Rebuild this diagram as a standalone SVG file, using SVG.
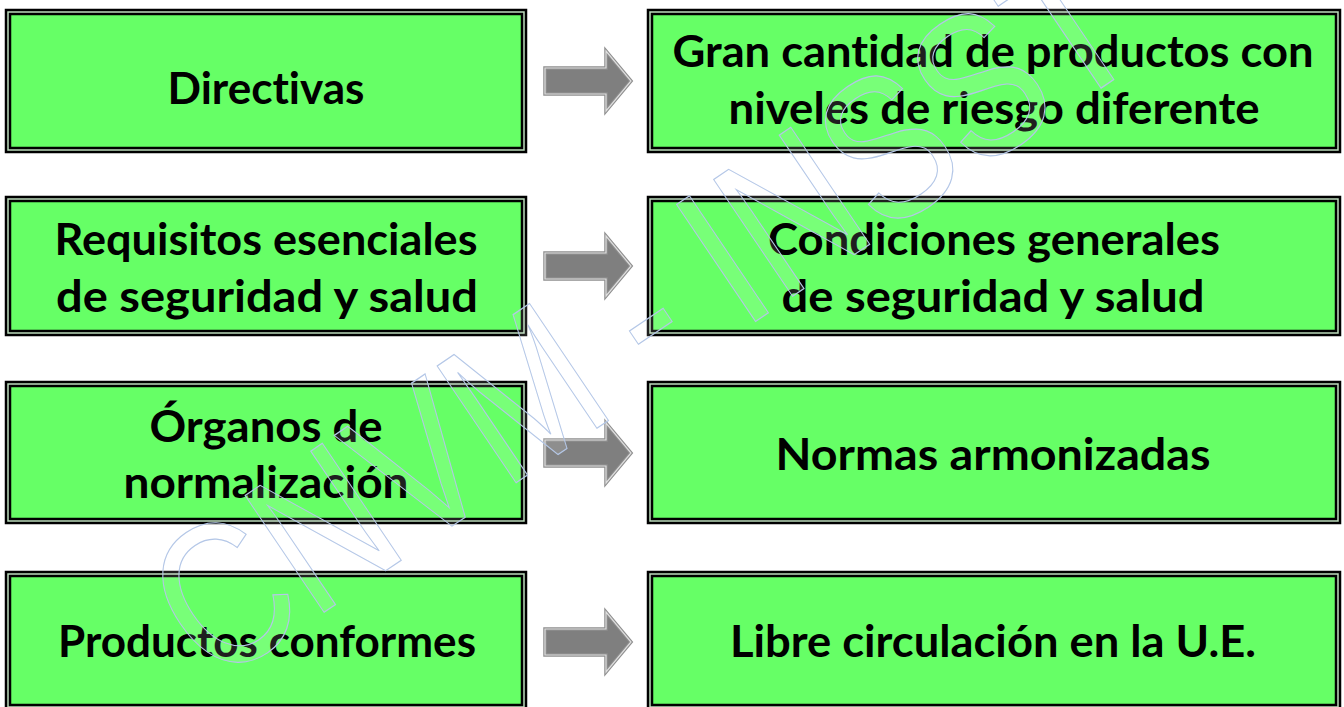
<svg xmlns="http://www.w3.org/2000/svg" width="1344" height="707" viewBox="0 0 1344 707">
<defs>
<style>
.outer{fill:#bcdcbc;stroke:#000;stroke-width:2.5}
.inner{fill:#66ff66;stroke:#000;stroke-width:2.5}
.t{font-family:Lato,"Liberation Sans",sans-serif;font-weight:700;font-size:43px;fill:#000;text-anchor:middle;font-variant-ligatures:none}
.ar{fill:#7f7f7f;stroke:#8f8f8f;stroke-width:3.5;stroke-linejoin:miter}
.arl{fill:none;stroke:#dedede;stroke-width:1.2;stroke-linejoin:miter}
.wm{font-family:"Liberation Sans",Arial,sans-serif;font-size:205px;fill:#ffffff;fill-opacity:0.12;stroke:#b4c7e7;stroke-width:1.2;text-anchor:middle}
</style>
<polygon id="arrow" points="545,-13 606,-13 606,-30 631,0 606,30 606,13 545,13"/>
</defs>
<rect width="1344" height="707" fill="#fff"/>

<g id="n1">
<rect class="outer" x="6" y="10" width="520" height="142"/>
<rect class="inner" x="10" y="14" width="512" height="134"/>
<text class="t" x="266" y="104" textLength="197" lengthAdjust="spacingAndGlyphs">Directivas</text>
</g>
<g id="n2">
<rect class="outer" x="648" y="10" width="692" height="142"/>
<rect class="inner" x="652" y="14" width="684" height="134"/>
<text class="t" x="993" y="67" textLength="641" lengthAdjust="spacingAndGlyphs">Gran cantidad de productos con</text>
<text class="t" x="994" y="124" textLength="531" lengthAdjust="spacingAndGlyphs">niveles de riesgo diferente</text>
</g>
<g id="n3">
<rect class="outer" x="6" y="197" width="520" height="138"/>
<rect class="inner" x="10" y="201" width="512" height="130"/>
<text class="t" x="266" y="255" textLength="423" lengthAdjust="spacingAndGlyphs">Requisitos esenciales</text>
<text class="t" x="267" y="312" textLength="422" lengthAdjust="spacingAndGlyphs">de seguridad y salud</text>
</g>
<g id="n4">
<rect class="outer" x="648" y="197" width="692" height="138"/>
<rect class="inner" x="652" y="201" width="684" height="130"/>
<text class="t" x="994" y="255" textLength="452" lengthAdjust="spacingAndGlyphs">Condiciones generales</text>
<text class="t" x="993" y="312" textLength="423" lengthAdjust="spacingAndGlyphs">de seguridad y salud</text>
</g>
<g id="n5">
<rect class="outer" x="6" y="382" width="520" height="141"/>
<rect class="inner" x="10" y="386" width="512" height="133"/>
<text class="t" x="266" y="442" textLength="233" lengthAdjust="spacingAndGlyphs">Órganos de</text>
<text class="t" x="266" y="498" textLength="285" lengthAdjust="spacingAndGlyphs">normalización</text>
</g>
<g id="n6">
<rect class="outer" x="648" y="382" width="692" height="141"/>
<rect class="inner" x="652" y="386" width="684" height="133"/>
<text class="t" x="993" y="470" textLength="435" lengthAdjust="spacingAndGlyphs">Normas armonizadas</text>
</g>
<g id="n7">
<rect class="outer" x="6" y="572" width="520" height="137"/>
<rect class="inner" x="10" y="576" width="512" height="129"/>
<text class="t" x="267" y="657" textLength="418" lengthAdjust="spacingAndGlyphs">Productos conformes</text>
</g>
<g id="n8">
<rect class="outer" x="648" y="572" width="692" height="137"/>
<rect class="inner" x="652" y="576" width="684" height="129"/>
<text class="t" x="993" y="657" textLength="526" lengthAdjust="spacingAndGlyphs">Libre circulación en la U.E.</text>
</g>

<g id="connectors">
<use href="#arrow" class="ar" y="81"/><use href="#arrow" class="arl" y="81"/>
<use href="#arrow" class="ar" y="266"/><use href="#arrow" class="arl" y="266"/>
<use href="#arrow" class="ar" y="453"/><use href="#arrow" class="arl" y="453"/>
<use href="#arrow" class="ar" y="642"/><use href="#arrow" class="arl" y="642"/>
</g>

<g id="watermark">
<text class="wm" transform="translate(640,310) rotate(-34)" x="0" y="74" textLength="1130" lengthAdjust="spacingAndGlyphs">CNVM - INSST</text>
</g>
</svg>
